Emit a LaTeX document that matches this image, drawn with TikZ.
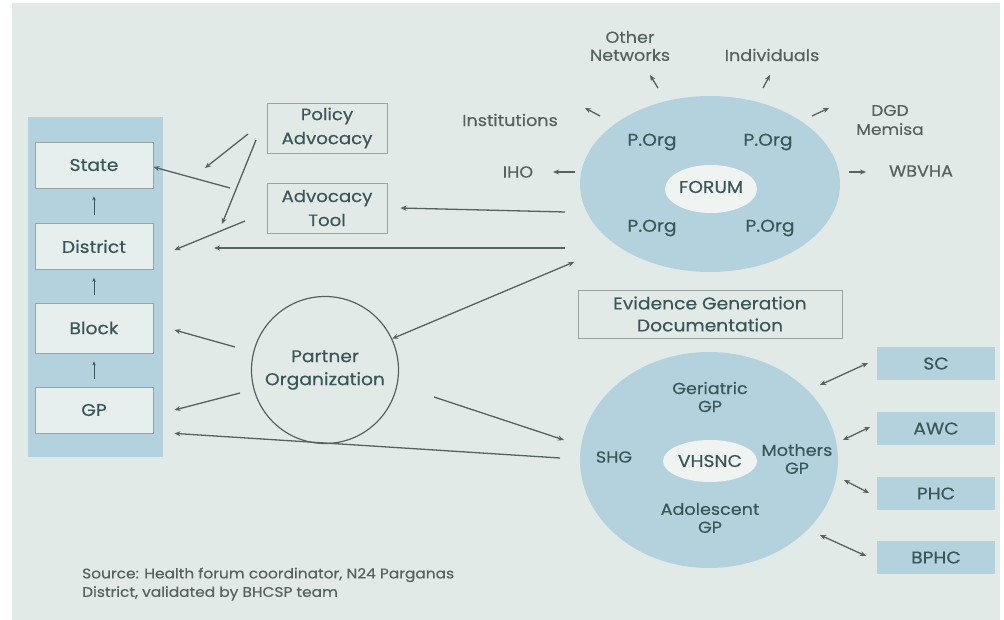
\documentclass[tikz,border=0pt]{standalone}
\usepackage{fontspec}
\setmainfont{Poppins}[FakeStretch=1.1, FakeBold=0.4]
\usetikzlibrary{arrows.meta,shapes.geometric}
\definecolor{bg}{HTML}{E2EAE8}
\definecolor{panel}{HTML}{B3D2DD}
\definecolor{boxfill}{HTML}{E7EEEE}
\definecolor{ink}{HTML}{3A5658}
\definecolor{soft}{HTML}{56625F}
\definecolor{wire}{HTML}{56625F}
\definecolor{frame}{HTML}{9AA4A3}
\definecolor{hole}{HTML}{EFF4F3}
\begin{document}
\begin{tikzpicture}[x=1pt,y=-1pt,
  txt/.style={text=ink, font=\fontsize{17}{22}\selectfont, align=center, inner sep=0pt},
  outer/.style={text=soft, font=\fontsize{16}{18}\selectfont, align=center, inner sep=0pt},
  level/.style={txt, draw=frame, line width=0.8pt, fill=boxfill, minimum width=118pt, minimum height=46pt},
  framed/.style={txt, draw=frame, line width=0.8pt, minimum width=120pt, minimum height=50pt, font=\fontsize{16.5}{24}\selectfont},
  unit/.style={txt, fill=panel, minimum width=118pt, minimum height=33pt},
  ring/.style={ellipse, fill=panel, inner sep=0pt},
  hollow/.style={ellipse, fill=hole, inner sep=0pt},
  link/.style={draw=wire, line width=1.3pt, -{Stealth[length=6pt,width=5pt]}},
  both/.style={link, {Stealth[length=6pt,width=5pt]}-{Stealth[length=6pt,width=5pt]}},
  rise/.style={draw=ink, line width=1pt, -{Stealth[length=4pt,width=3.5pt]}, shorten <=8pt, shorten >=8pt}
]
% canvas
\useasboundingbox (0,0) rectangle (1004,620);
\fill[white] (0,0) rectangle (1004,620);
\fill[bg] (12,3) rectangle (1000,620);

% administrative levels
\fill[panel] (28,117) rectangle (163,457);
\node[level] (state) at (94,165) {State};
\node[level] (district) at (94,246.5) {District};
\node[level, minimum height=50pt] (block) at (94,328) {Block};
\node[level] (gp) at (94,410) {GP};
\draw[rise] (district.north) -- (state.south);
\draw[rise] (block.north) -- (district.south);
\draw[rise] (gp.north) -- (block.south);

% advocacy boxes
\node[framed] (policy) at (327,128) {Policy\\Advocacy};
\node[framed] (tool) at (327,208) {Advocacy\\Tool};

% partner organization
\node[circle, draw=soft, line width=1.2pt, minimum size=147pt, txt, font=\fontsize{17}{23}\selectfont] (partner) at (325,370) {Partner\\Organization};

% forum
\node[ring, minimum width=260pt, minimum height=176pt] (forum) at (710,184) {};
\node[hollow, minimum width=92pt, minimum height=48pt] (forumcore) at (711,189) {};
\node[txt] (forumlbl) at (711,187) {FORUM};
\node[txt] (po1) at (652,142) {P.Org};
\node[txt] (po2) at (768,142) {P.Org};
\node[txt] (po3) at (652,228) {P.Org};
\node[txt] (po4) at (770,228) {P.Org};

% forum contacts
\node[outer] (othernet) at (630,46) {Other\\Networks};
\node[outer] (indiv) at (772,55) {Individuals};
\node[outer] (inst) at (510,120) {Institutions};
\node[outer] (iho) at (518,172) {IHO};
\node[outer, font=\fontsize{15.5}{19}\selectfont] (dgd) at (890,120) {DGD\\Memisa};
\node[outer] (wbvha) at (921,171) {WBVHA};

% evidence
\node[framed, minimum width=264pt, minimum height=48pt, font=\fontsize{17}{22}\selectfont] (evidence) at (710,314) {Evidence Generation\\Documentation};

% VHSNC
\node[ring, minimum width=258pt, minimum height=216pt] (vhsnc) at (709,460) {};
\node[hollow, minimum width=94pt, minimum height=42pt] (vhsnccore) at (710,461) {};
\node[txt] (vhsnclbl) at (710,461) {VHSNC};
\node[txt, font=\fontsize{16}{18}\selectfont] (geri) at (710,397) {Geriatric\\GP};
\node[txt, font=\fontsize{16}{18}\selectfont] (shg) at (614,457) {SHG};
\node[txt, font=\fontsize{16}{18}\selectfont] (moth) at (797,459) {Mothers\\GP};
\node[txt, font=\fontsize{16}{18}\selectfont] (adol) at (710,518) {Adolescent\\GP};

% health facilities
\node[unit] (sc) at (936,363.5) {SC};
\node[unit] (awc) at (936,428.5) {AWC};
\node[unit] (phc) at (936,493.5) {PHC};
\node[unit] (bphc) at (936,557.5) {BPHC};

% source note
\node[anchor=north west, text=soft, font=\fontsize{14}{18.5}\selectfont, align=left, inner sep=0pt] (source) at (82,567.5) {Source: Health forum coordinator, N24 Parganas\\District, validated by BHCSP team};

% connector ends
\coordinate (p1a) at (248,134);  \coordinate (p1b) at (205,168);
\coordinate (p2a) at (230,188);
\coordinate (p3a) at (256,140);  \coordinate (p3b) at (222,224);
\coordinate (p4a) at (245,221);
\coordinate (f1a) at (565,248);  \coordinate (f1b) at (214,248);
\coordinate (f2a) at (565,212);
\coordinate (f3b) at (574,262);
\coordinate (b1a) at (235,347);
\coordinate (g1a) at (240,393);
\coordinate (v1a) at (560,458);
\coordinate (v2a) at (434,397);  \coordinate (v2b) at (564,440);
\coordinate (on1) at (658,88);   \coordinate (on2) at (650,75);
\coordinate (in1) at (763,88);   \coordinate (in2) at (770,75);
\coordinate (is1) at (600,116);  \coordinate (is2) at (585,108);
\coordinate (ih1) at (575,172);  \coordinate (ih2) at (553,172);
\coordinate (dg1) at (812,116);  \coordinate (dg2) at (829,108);
\coordinate (wb1) at (849,172);  \coordinate (wb2) at (866,172);
\coordinate (sc1) at (820,385);  \coordinate (sc2) at (868,363);
\coordinate (aw1) at (843,440);  \coordinate (aw2) at (870,427);
\coordinate (ph1) at (844,480);  \coordinate (ph2) at (869,493);
\coordinate (bp1) at (820,535);  \coordinate (bp2) at (866,556);

% advocacy links
\draw[link] (p1a) -- (p1b);
\draw[link] (p2a) -- (state.east |- 0,167);
\draw[link] (p3a) -- (p3b);
\draw[link] (p4a) -- ([xshift=21pt]district.east |- 0,250);
\draw[link] (f1a) -- (f1b);
\draw[link] (f2a) -- ([xshift=13pt]tool.east);
\draw[both] (partner.25) -- (f3b);
\draw[link] (b1a) -- ([xshift=21pt]block.east |- 0,330);
\draw[link] (g1a) -- ([xshift=21pt]gp.east |- 0,410);
\draw[link] (v1a) -- ([xshift=21pt]gp.south east);
\draw[link] (v2a) -- (v2b);

% forum contact links
\draw[link] (on1) -- (on2);
\draw[link] (in1) -- (in2);
\draw[link] (is1) -- (is2);
\draw[link] (ih1) -- (ih2);
\draw[link] (dg1) -- (dg2);
\draw[link] (wb1) -- (wb2);

% facility links
\draw[both] (sc1) -- (sc2);
\draw[both] (aw1) -- (aw2);
\draw[both] (ph1) -- (ph2);
\draw[both] (bp1) -- (bp2);
\end{tikzpicture}
\end{document}
